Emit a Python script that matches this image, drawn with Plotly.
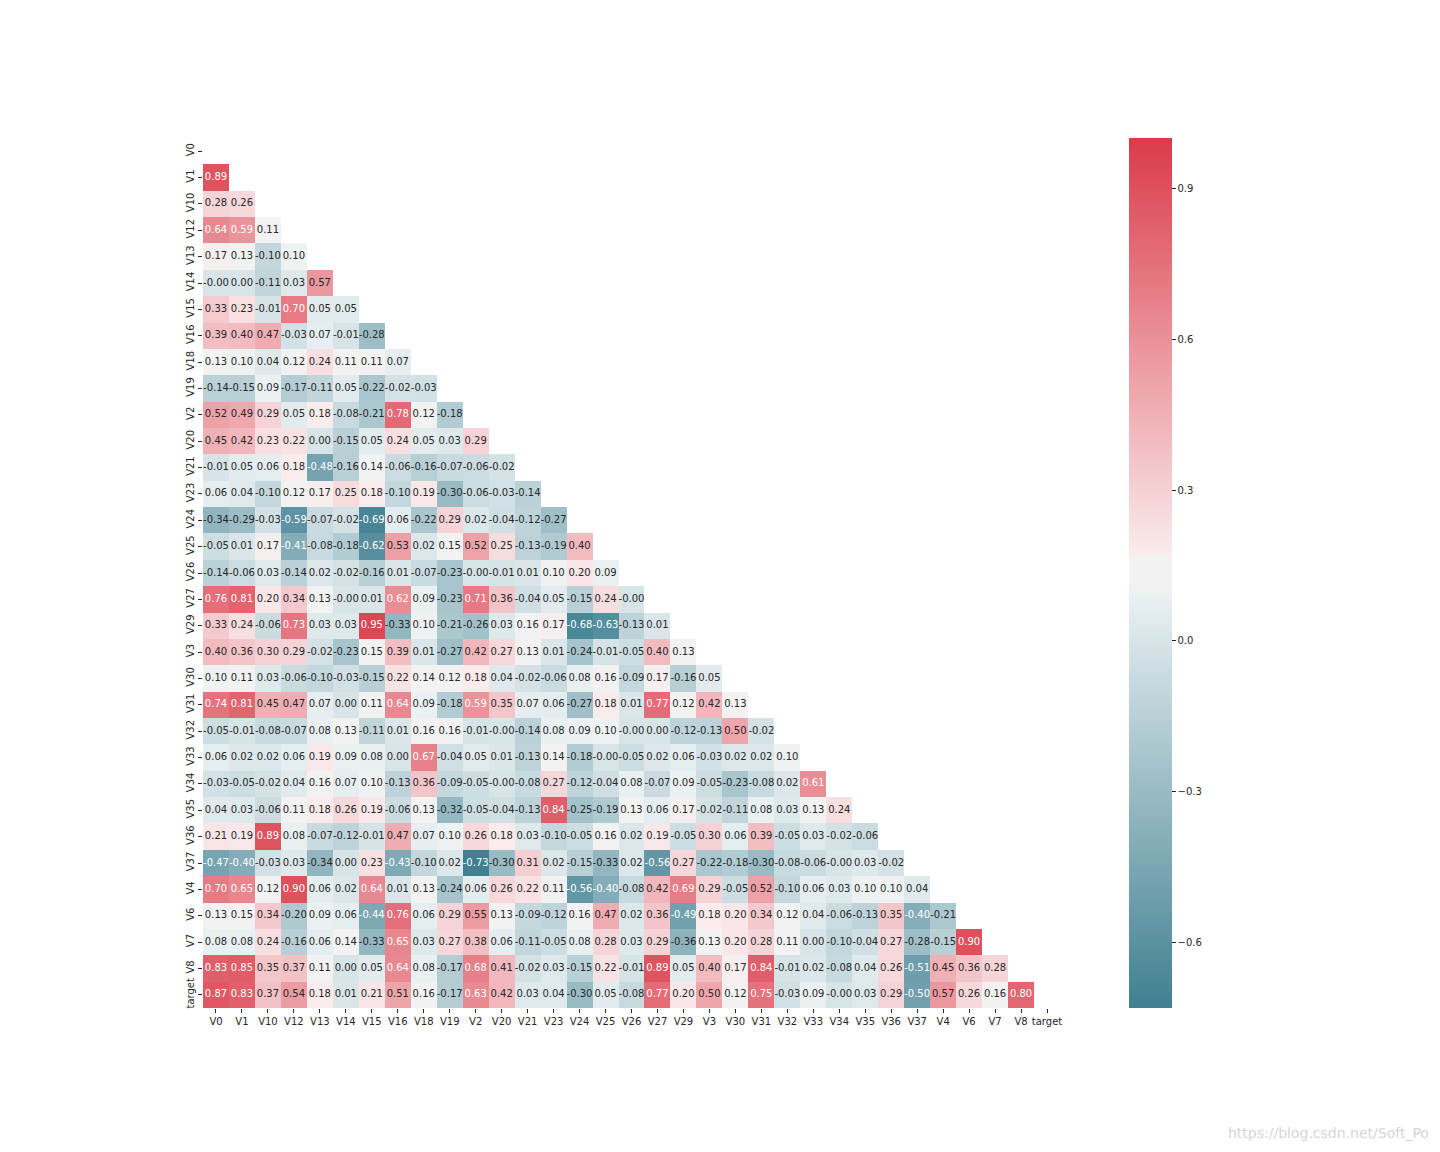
import plotly.graph_objects as go

names = ["V0", "V1", "V10", "V12", "V13", "V14", "V15", "V16", "V18", "V19",
         "V2", "V20", "V21", "V23", "V24", "V25", "V26", "V27", "V29", "V3",
         "V30", "V31", "V32", "V33", "V34", "V35", "V36", "V37", "V4", "V6",
         "V7", "V8", "target"]

# lower triangle of the correlation matrix, row by row (row i has i values)
rows = [
    [],
    [0.89],
    [0.28, 0.26],
    [0.64, 0.59, 0.11],
    [0.17, 0.13, -0.10, 0.10],
    [-0.0, 0.00, -0.11, 0.03, 0.57],
    [0.33, 0.23, -0.01, 0.70, 0.05, 0.05],
    [0.39, 0.40, 0.47, -0.03, 0.07, -0.01, -0.28],
    [0.13, 0.10, 0.04, 0.12, 0.24, 0.11, 0.11, 0.07],
    [-0.14, -0.15, 0.09, -0.17, -0.11, 0.05, -0.22, -0.02, -0.03],
    [0.52, 0.49, 0.29, 0.05, 0.18, -0.08, -0.21, 0.78, 0.12, -0.18],
    [0.45, 0.42, 0.23, 0.22, 0.00, -0.15, 0.05, 0.24, 0.05, 0.03, 0.29],
    [-0.01, 0.05, 0.06, 0.18, -0.48, -0.16, 0.14, -0.06, -0.16, -0.07, -0.06, -0.02],
    [0.06, 0.04, -0.10, 0.12, 0.17, 0.25, 0.18, -0.10, 0.19, -0.30, -0.06, -0.03, -0.14],
    [-0.34, -0.29, -0.03, -0.59, -0.07, -0.02, -0.69, 0.06, -0.22, 0.29, 0.02, -0.04, -0.12, -0.27],
    [-0.05, 0.01, 0.17, -0.41, -0.08, -0.18, -0.62, 0.53, 0.02, 0.15, 0.52, 0.25, -0.13, -0.19, 0.40],
    [-0.14, -0.06, 0.03, -0.14, 0.02, -0.02, -0.16, 0.01, -0.07, -0.23, -0.0, -0.01, 0.01, 0.10, 0.20, 0.09],
    [0.76, 0.81, 0.20, 0.34, 0.13, -0.0, 0.01, 0.62, 0.09, -0.23, 0.71, 0.36, -0.04, 0.05, -0.15, 0.24, -0.0],
    [0.33, 0.24, -0.06, 0.73, 0.03, 0.03, 0.95, -0.33, 0.10, -0.21, -0.26, 0.03, 0.16, 0.17, -0.68, -0.63, -0.13, 0.01],
    [0.40, 0.36, 0.30, 0.29, -0.02, -0.23, 0.15, 0.39, 0.01, -0.27, 0.42, 0.27, 0.13, 0.01, -0.24, -0.01, -0.05, 0.40, 0.13],
    [0.10, 0.11, 0.03, -0.06, -0.10, -0.03, -0.15, 0.22, 0.14, 0.12, 0.18, 0.04, -0.02, -0.06, 0.08, 0.16, -0.09, 0.17, -0.16, 0.05],
    [0.74, 0.81, 0.45, 0.47, 0.07, 0.00, 0.11, 0.64, 0.09, -0.18, 0.59, 0.35, 0.07, 0.06, -0.27, 0.18, 0.01, 0.77, 0.12, 0.42, 0.13],
    [-0.05, -0.01, -0.08, -0.07, 0.08, 0.13, -0.11, 0.01, 0.16, 0.16, -0.01, -0.0, -0.14, 0.08, 0.09, 0.10, -0.0, 0.00, -0.12, -0.13, 0.50, -0.02],
    [0.06, 0.02, 0.02, 0.06, 0.19, 0.09, 0.08, 0.00, 0.67, -0.04, 0.05, 0.01, -0.13, 0.14, -0.18, -0.0, -0.05, 0.02, 0.06, -0.03, 0.02, 0.02, 0.10],
    [-0.03, -0.05, -0.02, 0.04, 0.16, 0.07, 0.10, -0.13, 0.36, -0.09, -0.05, -0.0, -0.08, 0.27, -0.12, -0.04, 0.08, -0.07, 0.09, -0.05, -0.23, -0.08, 0.02, 0.61],
    [0.04, 0.03, -0.06, 0.11, 0.18, 0.26, 0.19, -0.06, 0.13, -0.32, -0.05, -0.04, -0.13, 0.84, -0.25, -0.19, 0.13, 0.06, 0.17, -0.02, -0.11, 0.08, 0.03, 0.13, 0.24],
    [0.21, 0.19, 0.89, 0.08, -0.07, -0.12, -0.01, 0.47, 0.07, 0.10, 0.26, 0.18, 0.03, -0.10, -0.05, 0.16, 0.02, 0.19, -0.05, 0.30, 0.06, 0.39, -0.05, 0.03, -0.02, -0.06],
    [-0.47, -0.40, -0.03, 0.03, -0.34, 0.00, 0.23, -0.43, -0.10, 0.02, -0.73, -0.30, 0.31, 0.02, -0.15, -0.33, 0.02, -0.56, 0.27, -0.22, -0.18, -0.30, -0.08, -0.06, -0.0, 0.03, -0.02],
    [0.70, 0.65, 0.12, 0.90, 0.06, 0.02, 0.64, 0.01, 0.13, -0.24, 0.06, 0.26, 0.22, 0.11, -0.56, -0.40, -0.08, 0.42, 0.69, 0.29, -0.05, 0.52, -0.10, 0.06, 0.03, 0.10, 0.10, 0.04],
    [0.13, 0.15, 0.34, -0.20, 0.09, 0.06, -0.44, 0.76, 0.06, 0.29, 0.55, 0.13, -0.09, -0.12, 0.16, 0.47, 0.02, 0.36, -0.49, 0.18, 0.20, 0.34, 0.12, 0.04, -0.06, -0.13, 0.35, -0.40, -0.21],
    [0.08, 0.08, 0.24, -0.16, 0.06, 0.14, -0.33, 0.65, 0.03, 0.27, 0.38, 0.06, -0.11, -0.05, 0.08, 0.28, 0.03, 0.29, -0.36, 0.13, 0.20, 0.28, 0.11, 0.00, -0.10, -0.04, 0.27, -0.28, -0.15, 0.90],
    [0.83, 0.85, 0.35, 0.37, 0.11, 0.00, 0.05, 0.64, 0.08, -0.17, 0.68, 0.41, -0.02, 0.03, -0.15, 0.22, -0.01, 0.89, 0.05, 0.40, 0.17, 0.84, -0.01, 0.02, -0.08, 0.04, 0.26, -0.51, 0.45, 0.36, 0.28],
    [0.87, 0.83, 0.37, 0.54, 0.18, 0.01, 0.21, 0.51, 0.16, -0.17, 0.63, 0.42, 0.03, 0.04, -0.30, 0.05, -0.08, 0.77, 0.20, 0.50, 0.12, 0.75, -0.03, 0.09, -0.0, 0.03, 0.29, -0.50, 0.57, 0.26, 0.16, 0.80],
]

zmin, zmax = -0.73, 1.0

# diverging palette (teal -> light gray -> red), linear in rgb like seaborn
stops = [
    (0.0, (64, 128, 145)),
    (0.478, (236, 242, 244)),
    (0.482, (242, 242, 242)),
    (0.518, (242, 242, 242)),
    (0.522, (250, 236, 237)),
    (1.0, (219, 59, 73)),
]
colorscale = [[p, "rgb(%d,%d,%d)" % c] for p, c in stops]


def cell_rgb(v):
    t = (v - zmin) / (zmax - zmin)
    t = min(max(t, 0), 1)
    for (p0, c0), (p1, c1) in zip(stops[:-1], stops[1:]):
        if p0 <= t <= p1:
            f = 0 if p1 == p0 else (t - p0) / (p1 - p0)
            return [c0[k] + f * (c1[k] - c0[k]) for k in range(3)]
    return stops[-1][1]


def luminance(rgb):
    out = []
    for c in rgb:
        c = c / 255
        out.append(c / 12.92 if c <= 0.03928 else ((c + 0.055) / 1.055) ** 2.4)
    return 0.2126 * out[0] + 0.7152 * out[1] + 0.0722 * out[2]


# page body has an 8px margin, so place things relative to that
W, H, OFF = 1440, 1152, 8


def px(x):
    return (x - OFF) / W


def py(y):
    return 1 - (y - OFF) / H


n = len(names)
z = [[None] * n for _ in range(n)]
tx, ty, tt, tc = [], [], [], []
for i, row in enumerate(rows):
    for j, v in enumerate(row):
        z[i][j] = v
        tx.append(names[j])
        ty.append(names[i])
        tt.append("{:.2f}".format(v))
        tc.append("#262626" if luminance(cell_rgb(v)) > 0.408 else "white")

fig = go.Figure()
fig.add_trace(go.Heatmap(
    z=z, x=names, y=names, zmin=zmin, zmax=zmax,
    colorscale=colorscale, hoverongaps=False,
    colorbar=dict(
        x=px(1129), xanchor="left", y=py(1008), yanchor="bottom",
        len=870 / H, lenmode="fraction", thickness=43, thicknessmode="pixels",
        outlinewidth=0, tick0=0, dtick=0.3, tickformat=".1f",
        ticks="outside", ticklen=4, tickcolor="#262626",
        tickfont=dict(family="DejaVu Sans", size=10, color="#262626"),
        xpad=0, ypad=0,
    ),
))
fig.add_trace(go.Scatter(
    x=tx, y=ty, text=tt, mode="text",
    textfont=dict(family="DejaVu Sans", size=10, color=tc),
    hoverinfo="skip", showlegend=False,
))

fig.add_annotation(
    text="https://blog.csdn.net/Soft_Po", xref="paper", yref="paper",
    x=px(1431), y=py(1133), xanchor="right", yanchor="middle",
    showarrow=False, font=dict(family="DejaVu Sans", size=14, color="#d4d4dc"),
)

fig.update_xaxes(
    domain=[px(203), px(1060)], type="category", range=[-0.5, n - 0.5],
    showgrid=False, zeroline=False, showline=False, ticks="outside",
    ticklen=4, tickcolor="#262626", tickangle=0, automargin=False,
    tickfont=dict(family="DejaVu Sans", size=10, color="#262626"),
)
fig.update_yaxes(
    domain=[py(1008), py(138)], type="category", range=[n - 0.5, -0.5],
    showgrid=False, zeroline=False, showline=False, ticks="outside",
    ticklen=4, tickcolor="#262626", tickangle=-90, automargin=False,
    tickfont=dict(family="DejaVu Sans", size=10, color="#262626"),
)
fig.update_layout(
    width=W, height=H,
    margin=dict(l=0, r=0, t=0, b=0),
    plot_bgcolor="white", paper_bgcolor="white",
    showlegend=False,
)

fig.write_html("out.html")
